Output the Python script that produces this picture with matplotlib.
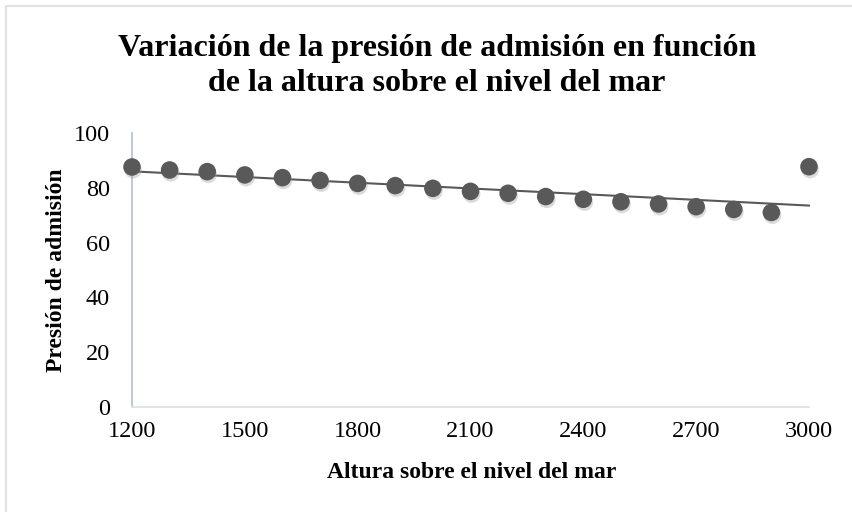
import numpy as np
import matplotlib
matplotlib.use("Agg")
import matplotlib.pyplot as plt
import matplotlib.patheffects as pe
from matplotlib.patches import Rectangle

# data
altura = [1200, 1300, 1400, 1500, 1600, 1700, 1800, 1900, 2000, 2100,
          2200, 2300, 2400, 2500, 2600, 2700, 2800, 2900, 3000]
presion = [87.6, 86.5, 85.9, 84.7, 83.7, 82.7, 81.6, 80.8, 79.8, 78.7,
           78.0, 76.8, 75.8, 74.9, 74.1, 73.1, 72.1, 71.0, 87.7]
x_ticks = [1200, 1500, 1800, 2100, 2400, 2700, 3000]
y_ticks = [0, 20, 40, 60, 80, 100]

plt.rcParams["font.family"] = ["Liberation Serif", "DejaVu Serif"]

fig = plt.figure(figsize=(8.53, 5.12), dpi=100)
ax = fig.add_axes([132 / 853, 1 - 407 / 512, (809 - 132) / 853, (407 - 133) / 512])

# chart border (cropped at right and bottom)
fig.patches.append(Rectangle((6 / 853, -0.05), 1.1, 1 - 6 / 512 + 0.05,
                             transform=fig.transFigure, fill=False,
                             edgecolor="#dfe3e8", linewidth=1.5))

# linear trendline
coef = np.polyfit(altura, presion, 1)
xs = np.array([altura[0], altura[-1]])
ax.plot(xs, np.polyval(coef, xs), color="#595959", linewidth=1.5, zorder=2, clip_on=False)

sc = ax.scatter(altura, presion, s=160, color="#595959", zorder=3, clip_on=False,
                linewidths=0)
sc.set_path_effects([pe.SimplePatchShadow(offset=(0.8, -2.0), shadow_rgbFace="#9a9a9a", alpha=0.35),
                     pe.Normal()])

ax.set_xlim(1200, 3000)
ax.set_ylim(0, 100)
ax.set_xticks(x_ticks)
ax.set_yticks(y_ticks)
ax.tick_params(axis="both", length=0, labelsize=17.5)
ax.tick_params(axis="x", pad=10)
ax.tick_params(axis="y", pad=16)

for s in ["top", "right"]:
    ax.spines[s].set_visible(False)
ax.spines["left"].set_color("#b7c3d6")
ax.spines["left"].set_linewidth(1.3)
ax.spines["bottom"].set_color("#dde1e6")
ax.spines["bottom"].set_linewidth(1.3)

fig.text(437 / 853, 1 - 66 / 512,
         "Variación de la presión de admisión en función\nde la altura sobre el nivel del mar",
         ha="center", va="center", fontsize=23, fontweight="bold", linespacing=1.25)
fig.text(57 / 853, 1 - 270 / 512, "Presión de admisión", rotation=90,
         ha="center", va="center", fontsize=17, fontweight="bold")
fig.text(472 / 853, 1 - 473 / 512, "Altura sobre el nivel del mar",
         ha="center", va="center", fontsize=17, fontweight="bold")

fig.savefig("out.png", dpi=100)
